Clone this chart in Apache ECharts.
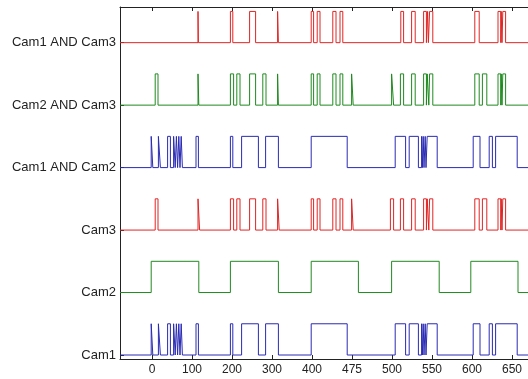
<!DOCTYPE html>
<html>
<head>
<meta charset="utf-8">
<script src="https://cdn.jsdelivr.net/npm/echarts@6/dist/echarts.min.js"></script>
<style>
html,body{margin:0;padding:0;background:#fff;}
#chart{width:528px;height:379px;}
</style>
</head>
<body>
<div id="chart"></div>
<script>
// Trace names (bottom to top)
const yLabels = ['Cam1', 'Cam2', 'Cam3', 'Cam1 AND Cam2', 'Cam2 AND Cam3', 'Cam1 AND Cam3'];
// X tick positions (axis units) and their labels
const xTickValues = [0, 100, 200, 300, 400, 500, 600, 700, 800, 900];
const xTickLabels = ['0', '100', '200', '300', '400', '475', '500', '550', '600', '650'];

// High-state intervals [start, end] of each trace
const cam1 = [[-2,2],[16,21],[39,46],[54,58],[61,64],[67,70],[73,76],[110,116],[196,202],[224,266],[284,316],[398,488],[608,634],[643,666],[674,676],[678,680],[683,685],[688,713],[803,820],[843,851],[859,913]];
const cam2 = [[-2,117],[196,316],[398,516],[599,718],[797,915]];
const cam3 = [[8,15],[115,119],[196,204],[212,220],[244,259],[277,285],[314,318],[398,404],[413,420],[452,460],[470,477],[499,503],[596,604],[621,629],[649,658],[679,686],[688,692],[694,702],[807,818],[826,837],[865,872],[873,875],[877,884]];
const cam1and2 = [[-2,2],[16,21],[39,46],[54,58],[61,64],[67,70],[73,76],[110,116],[196,202],[224,266],[284,316],[398,488],[608,634],[643,666],[674,676],[678,680],[683,685],[688,713],[803,820],[843,851],[859,913]];
const cam2and3 = [[8,15],[115,117],[196,204],[212,220],[244,259],[277,285],[314,316],[398,404],[413,420],[452,460],[470,477],[499,503],[599,604],[621,629],[649,658],[679,686],[688,692],[694,702],[807,818],[826,837],[865,872],[873,875],[877,884]];
const cam1and3 = [[115,116],[196,202],[244,259],[314,316],[398,404],[413,420],[452,460],[470,477],[622,629],[649,658],[679,686],[689,691],[694,702],[807,818],[865,872],[873,875],[877,884]];

const traces = [cam1, cam2, cam3, cam1and2, cam2and3, cam1and3];
const colors = ['#2a2ab4', '#1e8a1e', '#e02424', '#2a2ab4', '#1e8a1e', '#e02424'];

const X_MIN = -80, X_MAX = 940;
const LEVEL = 0.5;

const series = traces.map(function (iv, k) {
  const pts = [[X_MIN, k]];
  iv.forEach(function (p) {
    pts.push([p[0], k], [p[0], k + LEVEL], [p[1], k + LEVEL], [p[1], k]);
  });
  pts.push([X_MAX, k]);
  return {
    type: 'line', name: yLabels[k], data: pts, showSymbol: false, symbol: 'none',
    lineStyle: { color: colors[k], width: 1 }, animation: false, silent: true
  };
});

const axisColor = '#222';
const chart = echarts.init(document.getElementById('chart'), null, { renderer: 'canvas' });
chart.setOption({
  animation: false,
  backgroundColor: '#fff',
  grid: { left: 120, right: 0, top: 7, bottom: 20, containLabel: false },
  xAxis: [{
    type: 'value', min: X_MIN, max: X_MAX, position: 'bottom',
    axisLine: { show: true, onZero: false, lineStyle: { color: axisColor, width: 1 } },
    axisTick: { show: true, inside: true, length: 4, customValues: xTickValues, lineStyle: { color: axisColor } },
    axisLabel: {
      show: true, customValues: xTickValues, margin: 5,
      formatter: function (v) { return xTickLabels[Math.round(v / 100)]; },
      fontSize: 12, color: axisColor, fontFamily: 'Liberation Sans, Arial, sans-serif'
    },
    splitLine: { show: false }
  }, {
    type: 'value', min: X_MIN, max: X_MAX, position: 'top',
    axisLine: { show: true, onZero: false, lineStyle: { color: axisColor, width: 1 } },
    axisTick: { show: true, inside: true, length: 4, customValues: xTickValues, lineStyle: { color: axisColor } },
    axisLabel: { show: false },
    splitLine: { show: false }
  }],
  yAxis: {
    type: 'value', min: -0.064, max: 5.571,
    axisLine: { show: true, onZero: false, lineStyle: { color: axisColor, width: 1 } },
    axisTick: { show: true, inside: true, length: 4, customValues: [0, 1, 2, 3, 4, 5], lineStyle: { color: axisColor } },
    axisLabel: {
      show: true, customValues: [0, 1, 2, 3, 4, 5], margin: 4,
      formatter: function (v) { return yLabels[Math.round(v)]; },
      fontSize: 13, color: axisColor, fontFamily: 'Liberation Sans, Arial, sans-serif'
    },
    splitLine: { show: false }
  },
  series: series
});
</script>
</body>
</html>
